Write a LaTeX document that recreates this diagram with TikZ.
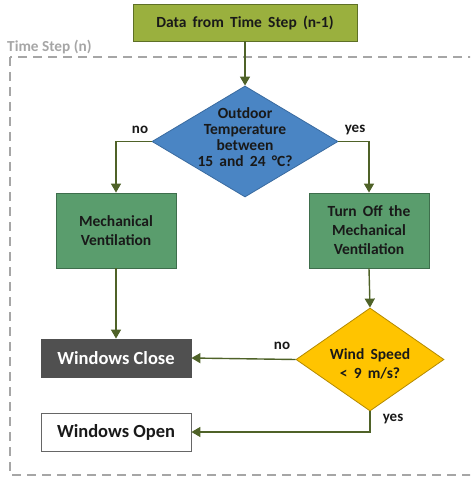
\documentclass[tikz,border=0pt]{standalone}
\usepackage{fontspec}
\setmainfont{Carlito}
\usetikzlibrary{shapes.geometric,arrows.meta}
\definecolor{olivebox}{HTML}{9AB03E}
\definecolor{oliveline}{HTML}{5E7026}
\definecolor{greenbox}{HTML}{5A9D6D}
\definecolor{greenline}{HTML}{3E6E4C}
\definecolor{bluebox}{HTML}{4A85C4}
\definecolor{blueline}{HTML}{3A6BA0}
\definecolor{yellowbox}{HTML}{FFC400}
\definecolor{yellowline}{HTML}{B48A00}
\definecolor{darkbox}{HTML}{505050}
\definecolor{arrowcol}{HTML}{4F6228}
\definecolor{framegray}{HTML}{A6A6A6}
\newcommand{\boxfont}{\bfseries\fontsize{15.5}{16}\selectfont\spaceskip=0.4em plus 0.1em}
\begin{document}
\begin{tikzpicture}[x=1pt,y=-1pt,
  txt/.style={font=\boxfont, align=center, inner sep=0pt, text=black!90},
  procbox/.style={txt, rectangle, draw=greenline, fill=greenbox, line width=0.8pt,
    minimum width=120pt, minimum height=75pt},
  decision/.style={diamond, line width=0.8pt, aspect=1.68, inner sep=0pt},
  endbox/.style={rectangle, line width=0.8pt, minimum width=150pt, minimum height=38pt,
    inner sep=0pt, font=\bfseries\fontsize{18.5}{20}\selectfont},
  flow/.style={draw=arrowcol, line width=1.4pt, -{Triangle[length=9pt,width=10pt]}},
  lab/.style={font=\bfseries\fontsize{15}{17}\selectfont, text=black!90, inner sep=0pt}]
\useasboundingbox (0,0) rectangle (470,478);
\begin{scope}
\clip (0,0) rectangle (470,478);
% dashed frame of the time step
\draw[framegray, line width=2pt, dash pattern=on 9pt off 6pt] (10,57) rectangle (478,475);
\end{scope}
\node[anchor=west, font=\bfseries\fontsize{15.3}{17}\selectfont, text=framegray, inner sep=0pt]
  (steplabel) at (7,47) {Time Step (n)};

% boxes and decisions
\node[txt, rectangle, draw=oliveline, fill=olivebox, line width=0.8pt,
  minimum width=224pt, minimum height=37pt] (prev) at (245,22.5)
  {Data from Time Step (n-1)};
\node[decision, fill=bluebox, draw=blueline, minimum width=186pt, minimum height=111pt]
  (temp) at (245,141.5) {};
\node[txt] (temptxt) at (245,137.5) {Outdoor\\Temperature\\between\\15 and 24 °C?};
\node[procbox] (mech) at (116,230.5) {Mechanical\\[3pt]Ventilation};
\node[procbox] (off) at (369,230.5) {Turn Off the\\[3pt]Mechanical\\[3pt]Ventilation};
\node[decision, fill=yellowbox, draw=yellowline, minimum width=148pt, minimum height=103pt]
  (wind) at (370,359.5) {};
\node[txt] (windtxt) at (370,363.5) {Wind Speed\\[3pt]\textless\ 9 m/s?};
\node[endbox, fill=darkbox, draw=darkbox, text=white] (close) at (116,358) {Windows Close};
\node[endbox, fill=white, draw=black!60, text=black!90] (open) at (116,432) {Windows Open};

% connectors
\coordinate (tl) at (116,141.5);
\coordinate (tr) at (369,141.5);
\coordinate (wb) at (370,432);
\draw[flow] (prev.south) -- (temp.north);
\draw[flow] (temp.west) -- (tl) -- (mech.north);
\draw[flow] (temp.east) -- (tr) -- (off.north);
\draw[flow] (mech.south) -- (close.north);
\draw[flow] (off.south) -- (wind.north);
\draw[flow] (wind.west) -- (close.east);
\draw[flow] (wind.south) -- (wb) -- (open.east);

% branch labels
\node[lab] (tno) at (140,130) {no};
\node[lab] (tyes) at (355,130) {yes};
\node[lab] (wno) at (282,346) {no};
\node[lab] (wyes) at (393,419) {yes};
\end{tikzpicture}
\end{document}
